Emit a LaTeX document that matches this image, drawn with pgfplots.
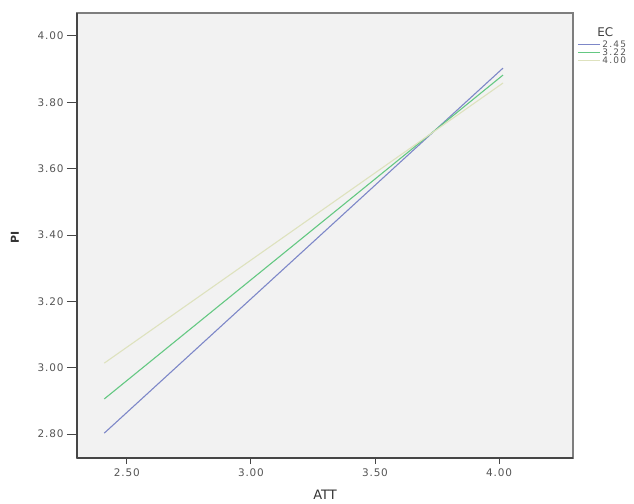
\documentclass[border=0pt]{standalone}
\usepackage{fontspec}
\setmainfont{DejaVu Sans}
\newfontfamily\tickfont[LetterSpace=8]{DejaVu Sans}
\newfontfamily\legfont[LetterSpace=14]{DejaVu Sans}
\usepackage{pgfplots}
\pgfplotsset{compat=1.18}
\definecolor{ecblue}{RGB}{125,135,200}
\definecolor{ecgreen}{RGB}{100,200,130}
\definecolor{ecbeige}{RGB}{222,226,190}
\definecolor{plotbg}{RGB}{242,242,242}
\definecolor{ticktext}{RGB}{85,85,85}
\definecolor{frame}{RGB}{70,70,70}

\begin{document}
\begin{tikzpicture}
\begin{axis}[
  at={(0,0)}, anchor=south west,
  scale only axis,
  width=496bp, height=445bp,
  xmin=2.299, xmax=4.298,
  ymin=2.728, ymax=4.069,
  xtick={2.5,3,3.5,4},
  ytick={2.8,3.0,3.2,3.4,3.6,3.8,4.0},
  xticklabel style={/pgf/number format/.cd,fixed,fixed zerofill,precision=2},
  yticklabel style={xshift=-3bp, /pgf/number format/.cd,fixed,fixed zerofill,precision=2},
  /pgf/number format/assume math mode=true,
  ticklabel style={font=\tickfont\fontsize{10.5}{11}\selectfont, text=ticktext},
  tick align=outside,
  xtick style={draw=frame, line width=1pt},
  ytick style={draw=frame, line width=1pt},
  x tick style={/pgfplots/major tick length=6bp},
  y tick style={/pgfplots/major tick length=10bp},
  major tick length=7bp,
  axis line style={draw=frame!70, line width=1.2pt},
  axis background/.style={fill=plotbg},
  tick pos=left,
  clip=false,
  legend style={at={(axis description cs:1.008,0.943)}, anchor=north west, draw=none, fill=none,
    font=\legfont\fontsize{9}{6}\selectfont, inner sep=0pt, row sep=-4.2pt,
    /tikz/every even column/.append style={column sep=1pt}},
  legend cell align=left,
  legend image code/.code={\draw[#1, line width=1.2pt] (0bp,0bp) -- (22bp,0bp);},
]
\addplot[ecblue, line width=1.1pt] coordinates {(2.409,2.803) (4.016,3.903)};
\addlegendentry{\textcolor{ticktext}{2.45}}
\addplot[ecgreen, line width=1.1pt] coordinates {(2.409,2.906) (4.016,3.882)};
\addlegendentry{\textcolor{ticktext}{3.22}}
\addplot[ecbeige, line width=1.1pt] coordinates {(2.409,3.014) (4.016,3.858)};
\addlegendentry{\textcolor{ticktext}{4.00}}
\node[anchor=west, font=\fontsize{12}{12}\selectfont, text=black!75] at (axis description cs:1.042,0.957) {EC};
\draw[frame, line width=1.2pt] (axis description cs:0,0) -- (axis description cs:1,0);
\draw[frame, line width=1.2pt] (axis description cs:0,0) -- (axis description cs:0,1);
\node[font=\bfseries\fontsize{11}{11}\selectfont, text=black!80, rotate=90] at ([xshift=-62bp]axis description cs:0,0.495) {PI};
\node[font=\fontsize{13}{13}\selectfont, text=black!80] at ([yshift=-37bp]axis description cs:0.5,0) {ATT};
\end{axis}
\path[use as bounding box] (-77bp,-40bp) rectangle (557bp,458bp);
\end{tikzpicture}
\end{document}
